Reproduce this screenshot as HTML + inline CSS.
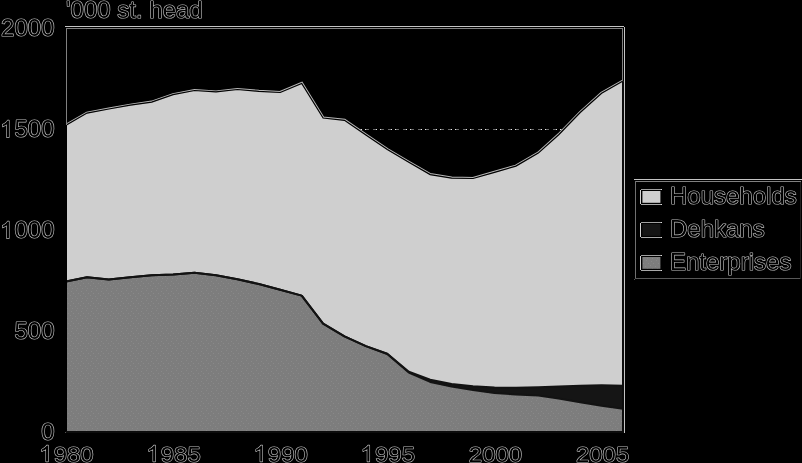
<!DOCTYPE html>
<html><head><meta charset="utf-8"><title>chart</title>
<style>html,body{margin:0;padding:0;background:#000;}svg{display:block;filter:grayscale(1)}</style></head>
<body>
<svg width="802" height="463" viewBox="0 0 802 463">
<defs>
<pattern id="dots" width="10" height="10" patternUnits="userSpaceOnUse"><rect width="10" height="10" fill="#7d7d7d"/><rect x="1" y="1" width="1" height="1" fill="#898989"/><rect x="6" y="0" width="1" height="1" fill="#878787"/><rect x="3" y="3" width="1" height="1" fill="#898989"/><rect x="8" y="3" width="1" height="1" fill="#888"/><rect x="0" y="5" width="1" height="1" fill="#898989"/><rect x="5" y="6" width="1" height="1" fill="#888"/><rect x="2" y="8" width="1" height="1" fill="#898989"/><rect x="7" y="8" width="1" height="1" fill="#878787"/></pattern>
</defs>
<rect width="802" height="463" fill="#000"/>
<!-- frame halos -->
<rect x="65" y="26" width="559" height="1" fill="#c4c4c4"/>
<rect x="66" y="28" width="557" height="1" fill="#808080"/>
<rect x="66" y="28" width="1" height="100" fill="#808080"/>
<rect x="622" y="28" width="1" height="60" fill="#808080"/>
<rect x="624" y="27" width="1" height="406" fill="#c4c4c4"/>
<!-- dotted 1500 line -->
<line x1="350" y1="129.5" x2="575" y2="129.5" stroke="#686868" stroke-width="1" stroke-dasharray="4 4 4 3"/><line x1="350" y1="129.5" x2="575" y2="129.5" stroke="#e4e4e4" stroke-width="1" stroke-dasharray="1 10 1 3"/>
<!-- areas -->
<polyline points="66.0,125.2 87.0,113.1 108.8,109.0 130.3,105.2 151.7,102.1 173.1,94.6 194.5,90.5 216.0,91.9 237.4,89.5 258.8,91.3 280.2,92.5 301.7,83.5 323.1,118.0 344.5,120.3 365.9,134.9 387.3,149.5 408.8,162.2 430.2,174.6 451.6,178.1 473.0,178.5 494.5,172.3 515.9,166.1 538.3,153.1 558.7,134.7 580.2,112.5 601.6,93.3 623.0,81.1" fill="none" stroke="#b8b8b8" stroke-width="3.0" stroke-linejoin="miter"/>
<polygon points="66.0,431.5 66.0,125.7 87.0,113.6 108.8,109.5 130.3,105.7 151.7,102.6 173.1,95.1 194.5,91.0 216.0,92.4 237.4,90.0 258.8,91.8 280.2,93.0 301.7,84.0 323.1,118.5 344.5,120.8 365.9,135.4 387.3,150.0 408.8,162.7 430.2,175.1 451.6,178.6 473.0,179.0 494.5,172.8 515.9,166.6 538.3,153.6 558.7,135.2 580.2,113.0 601.6,93.8 623.0,81.6 623.0,431.5" fill="#cfcfcf"/>
<polyline points="66.0,125.2 87.0,113.1 108.8,109.0 130.3,105.2 151.7,102.1 173.1,94.6 194.5,90.5 216.0,91.9 237.4,89.5 258.8,91.3 280.2,92.5 301.7,83.5 323.1,118.0 344.5,120.3 365.9,134.9 387.3,149.5 408.8,162.2 430.2,174.6 451.6,178.1 473.0,178.5 494.5,172.3 515.9,166.1 538.3,153.1 558.7,134.7 580.2,112.5 601.6,93.3 623.0,81.1" fill="none" stroke="#000" stroke-width="1.2" stroke-linejoin="miter"/>
<polygon points="66.0,431.5 66.0,281.5 87.0,277.2 108.8,279.6 130.3,277.2 151.7,275.3 173.1,274.4 194.5,272.8 216.0,275.3 237.4,279.2 258.8,284.0 280.2,289.7 301.7,295.6 323.1,323.7 344.5,336.3 365.9,346.1 387.3,354.0 408.8,372.5 430.2,381.9 451.6,386.5 473.0,390.0 494.5,393.0 515.9,394.4 538.3,395.6 558.7,398.4 580.2,402.2 601.6,405.7 623.0,408.8 623.0,431.5" fill="url(#dots)"/>
<polygon points="66.0,281.5 87.0,277.2 108.8,279.6 130.3,277.2 151.7,275.3 173.1,274.4 194.5,272.8 216.0,275.3 237.4,279.2 258.8,284.0 280.2,289.7 301.7,295.6 323.1,323.7 344.5,336.3 365.9,346.1 387.3,353.8 408.8,371.8 430.2,379.7 451.6,383.9 473.0,386.3 494.5,387.5 515.9,387.8 538.3,387.3 558.7,386.6 580.2,385.7 601.6,385.2 623.0,385.7 623.0,408.8 601.6,405.7 580.2,402.2 558.7,398.4 538.3,395.6 515.9,394.4 494.5,393.0 473.0,390.0 451.6,386.5 430.2,381.9 408.8,372.5 387.3,354.0 365.9,346.1 344.5,336.3 323.1,323.7 301.7,295.6 280.2,289.7 258.8,284.0 237.4,279.2 216.0,275.3 194.5,272.8 173.1,274.4 151.7,275.3 130.3,277.2 108.8,279.6 87.0,277.2 66.0,281.5" fill="#141612"/>
<polyline points="66.0,281.5 87.0,277.2 108.8,279.6 130.3,277.2 151.7,275.3 173.1,274.4 194.5,272.8 216.0,275.3 237.4,279.2 258.8,284.0 280.2,289.7 301.7,295.6 323.1,323.7 344.5,336.3 365.9,346.1 387.3,354.0 408.8,372.5 430.2,381.9 451.6,386.5 473.0,390.0 494.5,393.0 515.9,394.4 538.3,395.6 558.7,398.4 580.2,402.2 601.6,405.7 623.0,408.8" fill="none" stroke="#121310" stroke-width="2" stroke-linejoin="round"/>
<polyline points="66.0,281.5 87.0,277.2 108.8,279.6 130.3,277.2 151.7,275.3 173.1,274.4 194.5,272.8 216.0,275.3 237.4,279.2 258.8,284.0 280.2,289.7 301.7,295.6 323.1,323.7 344.5,336.3 365.9,346.1 387.3,353.8 408.8,371.8 430.2,379.7 451.6,383.9 473.0,386.3 494.5,387.5 515.9,387.8 538.3,387.3 558.7,386.6 580.2,385.7 601.6,385.2 623.0,385.7" fill="none" stroke="#121310" stroke-width="2" stroke-linejoin="round"/>
<!-- frame black -->
<rect x="60" y="29" width="7" height="404" fill="#000"/>
<rect x="66" y="28" width="1" height="97" fill="#808080"/>
<rect x="66" y="431" width="558" height="2" fill="#0c0c0c"/>
<rect x="622" y="82" width="2" height="351" fill="#0c0c0c"/>
<rect x="65" y="432" width="1" height="1" fill="#555"/>
<text transform="translate(41.15,440.3) scale(1.02128,1)" font-family="Liberation Sans, sans-serif" font-size="23.5" fill="#000" stroke="#c0c0c0" stroke-width="1.2" paint-order="stroke" stroke-linejoin="round">0</text><text transform="translate(14.46,339.3) scale(1.02128,1)" font-family="Liberation Sans, sans-serif" font-size="23.5" fill="#000" stroke="#c0c0c0" stroke-width="1.2" paint-order="stroke" stroke-linejoin="round">500</text><path transform="translate(0.01,238.3) scale(0.011719,-0.011475)" d="M763 0H583V1147Q518 1085 412 1023T223 930V1104Q374 1175 487 1276T647 1472H763V0Z" fill="#000" stroke="#c0c0c0" stroke-width="1.2" paint-order="stroke" stroke-linejoin="round" vector-effect="non-scaling-stroke"/><text transform="translate(14.46,238.3) scale(1.02128,1)" font-family="Liberation Sans, sans-serif" font-size="23.5" fill="#000" stroke="#c0c0c0" stroke-width="1.2" paint-order="stroke" stroke-linejoin="round">000</text><path transform="translate(0.01,137.3) scale(0.011719,-0.011475)" d="M763 0H583V1147Q518 1085 412 1023T223 930V1104Q374 1175 487 1276T647 1472H763V0Z" fill="#000" stroke="#c0c0c0" stroke-width="1.2" paint-order="stroke" stroke-linejoin="round" vector-effect="non-scaling-stroke"/><text transform="translate(14.46,137.3) scale(1.02128,1)" font-family="Liberation Sans, sans-serif" font-size="23.5" fill="#000" stroke="#c0c0c0" stroke-width="1.2" paint-order="stroke" stroke-linejoin="round">500</text><text transform="translate(1.11,36.3) scale(1.02128,1)" font-family="Liberation Sans, sans-serif" font-size="23.5" fill="#000" stroke="#c0c0c0" stroke-width="1.2" paint-order="stroke" stroke-linejoin="round">2000</text>
<path transform="translate(39.20,461.6) scale(0.011719,-0.011016)" d="M763 0H583V1147Q518 1085 412 1023T223 930V1104Q374 1175 487 1276T647 1472H763V0Z" fill="#000" stroke="#c0c0c0" stroke-width="1.2" paint-order="stroke" stroke-linejoin="round" vector-effect="non-scaling-stroke"/><text transform="translate(53.65,461.6) scale(1.02128,0.96)" font-family="Liberation Sans, sans-serif" font-size="23.5" fill="#000" stroke="#c0c0c0" stroke-width="1.2" paint-order="stroke" stroke-linejoin="round">980</text><path transform="translate(146.30,461.6) scale(0.011719,-0.011016)" d="M763 0H583V1147Q518 1085 412 1023T223 930V1104Q374 1175 487 1276T647 1472H763V0Z" fill="#000" stroke="#c0c0c0" stroke-width="1.2" paint-order="stroke" stroke-linejoin="round" vector-effect="non-scaling-stroke"/><text transform="translate(160.75,461.6) scale(1.02128,0.96)" font-family="Liberation Sans, sans-serif" font-size="23.5" fill="#000" stroke="#c0c0c0" stroke-width="1.2" paint-order="stroke" stroke-linejoin="round">985</text><path transform="translate(253.40,461.6) scale(0.011719,-0.011016)" d="M763 0H583V1147Q518 1085 412 1023T223 930V1104Q374 1175 487 1276T647 1472H763V0Z" fill="#000" stroke="#c0c0c0" stroke-width="1.2" paint-order="stroke" stroke-linejoin="round" vector-effect="non-scaling-stroke"/><text transform="translate(267.85,461.6) scale(1.02128,0.96)" font-family="Liberation Sans, sans-serif" font-size="23.5" fill="#000" stroke="#c0c0c0" stroke-width="1.2" paint-order="stroke" stroke-linejoin="round">990</text><path transform="translate(360.50,461.6) scale(0.011719,-0.011016)" d="M763 0H583V1147Q518 1085 412 1023T223 930V1104Q374 1175 487 1276T647 1472H763V0Z" fill="#000" stroke="#c0c0c0" stroke-width="1.2" paint-order="stroke" stroke-linejoin="round" vector-effect="non-scaling-stroke"/><text transform="translate(374.95,461.6) scale(1.02128,0.96)" font-family="Liberation Sans, sans-serif" font-size="23.5" fill="#000" stroke="#c0c0c0" stroke-width="1.2" paint-order="stroke" stroke-linejoin="round">995</text><text transform="translate(468.80,461.6) scale(1.02128,0.96)" font-family="Liberation Sans, sans-serif" font-size="23.5" fill="#000" stroke="#c0c0c0" stroke-width="1.2" paint-order="stroke" stroke-linejoin="round">2000</text><text transform="translate(575.90,461.6) scale(1.02128,0.96)" font-family="Liberation Sans, sans-serif" font-size="23.5" fill="#000" stroke="#c0c0c0" stroke-width="1.2" paint-order="stroke" stroke-linejoin="round">2005</text>
<text transform="translate(66.00,18.4) scale(1.02128,1)" font-family="Liberation Sans, sans-serif" font-size="23.5" fill="#000" stroke="#c0c0c0" stroke-width="1.2" paint-order="stroke" stroke-linejoin="round">'000 st. head</text>
<!-- legend -->
<rect x="634" y="179" width="168" height="1" fill="#c4c4c4"/>
<rect x="635" y="181" width="166" height="1" fill="#808080"/>
<rect x="635" y="181" width="1" height="98" fill="#707070"/>
<rect x="635" y="278" width="166" height="1" fill="#585858"/>
<rect x="800" y="182" width="1" height="97" fill="#222"/>
<rect x="634" y="279" width="1" height="1" fill="#555"/>
<rect x="640" y="190" width="1" height="14" fill="#d4d4d4"/><rect x="641" y="189" width="21" height="1" fill="#a0a0a0"/><rect x="661" y="189" width="1" height="1" fill="#d8d8d8"/><rect x="641" y="204" width="21" height="1" fill="#a8a8a8"/><rect x="661" y="204" width="1" height="1" fill="#d8d8d8"/><rect x="642.4" y="191" width="18" height="11.8" fill="#cfcfcf"/>
<rect x="640" y="223" width="1" height="14" fill="#d4d4d4"/><rect x="641" y="222" width="21" height="1" fill="#a0a0a0"/><rect x="661" y="222" width="1" height="1" fill="#d8d8d8"/><rect x="641" y="237" width="21" height="1" fill="#a8a8a8"/><rect x="661" y="237" width="1" height="1" fill="#d8d8d8"/><rect x="642.4" y="224" width="18" height="11.8" fill="#141612"/>
<rect x="640" y="256" width="1" height="14" fill="#d4d4d4"/><rect x="641" y="255" width="21" height="1" fill="#a0a0a0"/><rect x="661" y="255" width="1" height="1" fill="#d8d8d8"/><rect x="641" y="270" width="21" height="1" fill="#a8a8a8"/><rect x="661" y="270" width="1" height="1" fill="#d8d8d8"/><rect x="642.4" y="257" width="18" height="11.8" fill="url(#dots)"/>
<text transform="translate(670.00,204.0) scale(1.02128,1)" font-family="Liberation Sans, sans-serif" font-size="23.5" fill="#000" stroke="#c0c0c0" stroke-width="1.2" paint-order="stroke" stroke-linejoin="round">Households</text><text transform="translate(670.00,237.0) scale(1.02128,1)" font-family="Liberation Sans, sans-serif" font-size="23.5" fill="#000" stroke="#c0c0c0" stroke-width="1.2" paint-order="stroke" stroke-linejoin="round">Dehkans</text><text transform="translate(670.00,270.0) scale(1.02128,1)" font-family="Liberation Sans, sans-serif" font-size="23.5" fill="#000" stroke="#c0c0c0" stroke-width="1.2" paint-order="stroke" stroke-linejoin="round">Enterprises</text>
</svg>
</body></html>
